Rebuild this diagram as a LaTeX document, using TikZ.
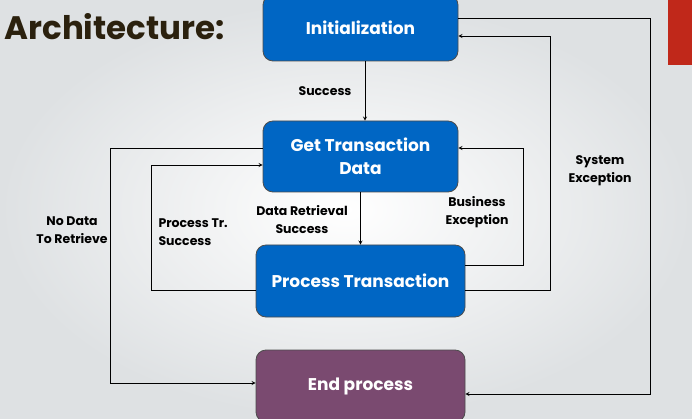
\documentclass[tikz,border=0pt]{standalone}
\usepackage{fontspec}
\setmainfont{Poppins}
\usetikzlibrary{positioning}
\definecolor{bgcol}{RGB}{222,225,227}
\definecolor{boxblue}{RGB}{0,102,196}
\definecolor{boxpurple}{RGB}{122,74,112}
\definecolor{titlecol}{RGB}{43,33,14}
\definecolor{tabred}{RGB}{192,40,26}
\begin{document}
\begin{tikzpicture}[x=1pt,y=-1pt,>=stealth,
    box/.style={draw=black!70,line width=0.8pt,rounded corners=10pt,fill=boxblue,text=white,
        font=\bfseries\fontsize{17}{23}\selectfont,align=center,inner sep=0pt},
    wbox/.style={box,minimum width=195pt},
    lbox/.style={box,minimum width=209pt},
    flow/.style={->,thick},
    lbl/.style={font=\bfseries\fontsize{12.5}{18}\selectfont,align=center,text=black}]
    \useasboundingbox (0,0) rectangle (692,419);
    \shade[inner color=white,outer color=bgcol] (0,0) rectangle (692,419); %背景
    \fill[tabred] (668,0) rectangle (692,65);
    \node[anchor=west,text=titlecol,font=\bfseries\fontsize{32.5}{36}\selectfont] (title) at (1,27) {Architecture:};
    % boxes
    \node[wbox,minimum height=66pt] (init) at (360.5,28) {Initialization};
    \node[wbox,minimum height=71pt] (get) at (360.5,156.5) {Get Transaction\\Data};
    \node[lbox,minimum height=72pt] (proc) at (360.5,281) {Process Transaction};
    \node[lbox,minimum height=72pt,fill=boxpurple] (end) at (360.5,386) {End process};
    % connectors
    \draw[flow] (init.south-|365,0) -- (get.north-|365,0);
    \draw[flow] (get.south) -- (proc.north);
    \draw[flow] ([yshift=8.5pt]get.west) -- ++(-152,0) |- ([yshift=3pt]end.west);
    \draw[flow] ([yshift=-9pt]proc.west) -- ++(-104,0) |- ([yshift=-8.5pt]get.west);
    \draw[flow] ([yshift=16pt]proc.east) -- ++(58,0) |- ([yshift=8.5pt]get.east);
    \draw[flow] ([yshift=-9pt]proc.east) -- ++(85,0) |- ([yshift=-8pt]init.east);
    \draw[flow] ([yshift=10pt]init.east) -- ++(192,0) |- ([yshift=-8pt]end.east);
    % labels
    \node[lbl] (lsucc) at (325,91) {Success};
    \node[lbl] (lret) at (302,220) {Data Retrieval\\Success};
    \node[lbl] (lnodata) at (72,230) {No Data\\To Retrieve};
    \node[lbl,align=left,anchor=west] (lproc) at (155,232) {Process Tr.\\Success};
    \node[lbl] (lbus) at (477,212) {Business\\Exception};
    \node[lbl] (lsys) at (600,171) {System\\Exception};
\end{tikzpicture}
\end{document}
